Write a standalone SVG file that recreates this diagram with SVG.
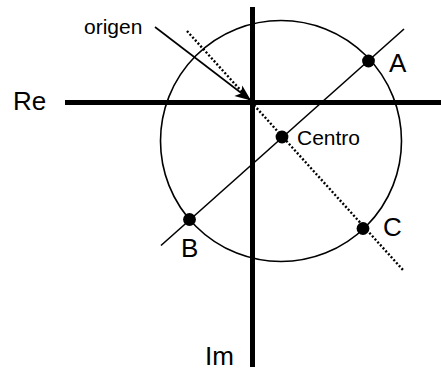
<svg xmlns="http://www.w3.org/2000/svg" width="441" height="370" viewBox="0 0 441 370">
<style>
text{font-family:"Liberation Sans",Arial,sans-serif;fill:#000}
.big{font-size:26px}
.small{font-size:21px}
.axis{stroke:#000;stroke-width:5;fill:none}
.thin{stroke:#000;stroke-width:1.6;fill:none}
.dot{fill:#000}
</style>
<defs>
<marker id="ah" markerUnits="userSpaceOnUse" viewBox="-17 -8 18 16" refX="0" refY="0" markerWidth="18" markerHeight="16" orient="auto">
<path d="M0,0 L-16,-6.5 L-12,0 L-16,6.5 Z" fill="#000"/>
</marker>
</defs>
<g id="connectors">
<line class="axis" x1="65" y1="102.5" x2="441" y2="102.5"/>
<line class="axis" x1="252.5" y1="7" x2="252.5" y2="367"/>
<circle class="thin" cx="281" cy="141" r="120.5"/>
<line class="thin" x1="161" y1="245.5" x2="404" y2="29"/>
<line x1="187" y1="31" x2="403" y2="270" stroke="#000" stroke-width="2.4" stroke-dasharray="2 2"/>
<line class="thin" x1="155" y1="27" x2="251" y2="100.5" stroke-width="1.8" marker-end="url(#ah)"/>
</g>
<g id="label-re"><text class="big" x="13" y="109.5">Re</text></g>
<g id="label-im"><text class="big" x="205" y="365">Im</text></g>
<g id="label-origen"><text class="small" x="84" y="34">origen</text></g>
<g id="node-centro"><circle class="dot" cx="282" cy="137" r="6.4"/><text class="small" x="297" y="145">Centro</text></g>
<g id="node-a"><circle class="dot" cx="368.5" cy="61" r="6.4"/><text class="big" x="389" y="72">A</text></g>
<g id="node-b"><circle class="dot" cx="189.5" cy="219.5" r="6.4"/><text class="big" x="181" y="257">B</text></g>
<g id="node-c"><circle class="dot" cx="363" cy="228.5" r="6.4"/><text class="big" x="383" y="235.5">C</text></g>
</svg>
